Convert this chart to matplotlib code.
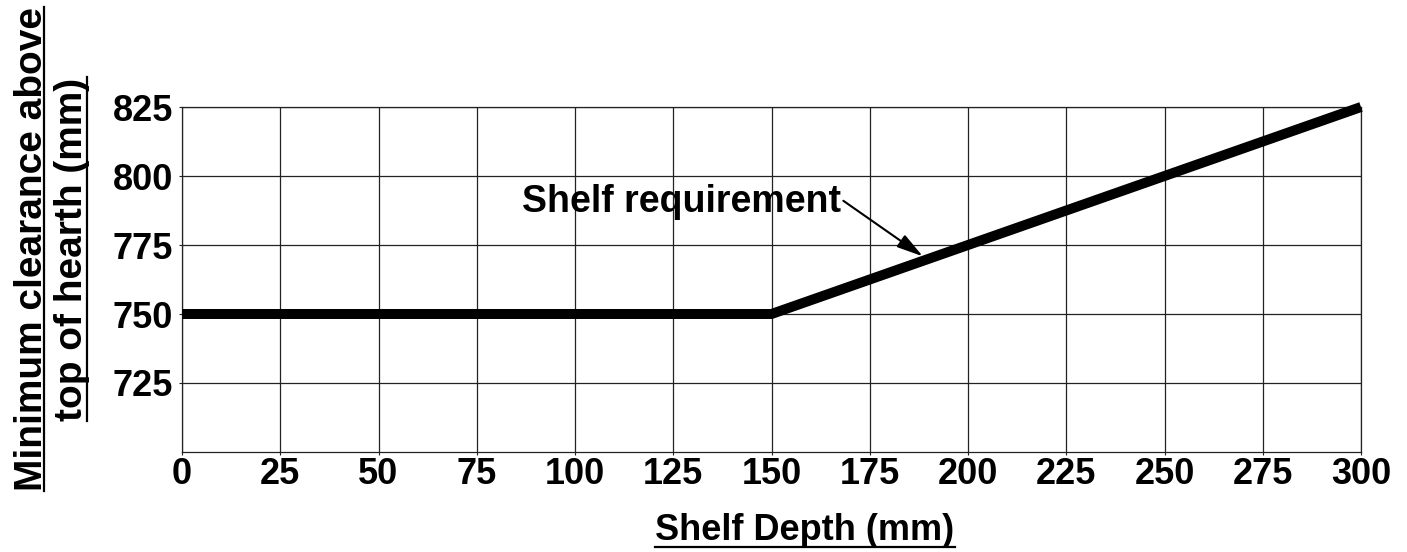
import matplotlib
matplotlib.use('Agg')
import matplotlib.pyplot as plt
from matplotlib.lines import Line2D

plt.rcParams['font.family'] = ['Liberation Sans', 'DejaVu Sans']
plt.rcParams['font.weight'] = 'bold'

# data
depth = [0, 150, 300]
clearance = [750, 750, 825]
x_ticks = list(range(0, 301, 25))
y_ticks = [725, 750, 775, 800, 825]

W, H = 1407, 552
fig = plt.figure(figsize=(W / 100, H / 100), dpi=100)
ax = fig.add_axes([182 / W, 1 - 452 / H, (1361 - 182) / W, 345 / H])

ax.plot(depth, clearance, color='black', linewidth=7.2, clip_on=False,
        solid_joinstyle='miter', solid_capstyle='butt', zorder=3)

ax.set_xlim(0, 300)
ax.set_ylim(700, 825)
ax.set_xticks(x_ticks)
ax.set_yticks(y_ticks)
ax.tick_params(axis='both', labelsize=26, length=2.5, width=0.8, color='#222222')
ax.tick_params(axis='x', pad=1)
ax.tick_params(axis='y', pad=4)
ax.grid(True, color='#222222', linewidth=0.9)
ax.set_axisbelow(True)
for s in ax.spines.values():
    s.set_color('#222222')
    s.set_linewidth(0.9)

# annotation
ax.annotate('Shelf requirement', xy=(188.5, 770.9), xytext=(86.4, 786.8),
            fontsize=27, fontweight='bold', ha='left', va='baseline',
            arrowprops=dict(arrowstyle='-|>,head_length=0.8,head_width=0.22',
                            mutation_scale=20, color='black', lw=1.5,
                            relpos=(1.0, 0.6), shrinkA=0, shrinkB=0))

# axis labels with underline
xl = fig.text(805 / W, 1 - 540 / H, 'Shelf Depth (mm)', fontsize=26,
              fontweight='bold', ha='center', va='baseline')
yl1 = fig.text(42 / W, 1 - 249 / H, 'Minimum clearance above', fontsize=28,
               fontweight='bold', rotation=90, rotation_mode='anchor',
               ha='center', va='baseline')
yl2 = fig.text(82 / W, 1 - 249 / H, 'top of hearth (mm)', fontsize=28,
               fontweight='bold', rotation=90, rotation_mode='anchor',
               ha='center', va='baseline')

fig.canvas.draw()
r = fig.canvas.get_renderer()
inv = fig.transFigure.inverted()

bb = xl.get_window_extent(r)
p0 = inv.transform((bb.x0, H - 547))
p1 = inv.transform((bb.x1, H - 547))
fig.add_artist(Line2D([p0[0], p1[0]], [p0[1], p1[1]], color='black', lw=1.6))

for t, ux in [(yl1, 44), (yl2, 87)]:
    bb = t.get_window_extent(r)
    p0 = inv.transform((ux, bb.y0))
    p1 = inv.transform((ux, bb.y1))
    fig.add_artist(Line2D([p0[0], p1[0]], [p0[1], p1[1]], color='black', lw=1.6))

fig.savefig('out.png', dpi=100, facecolor='white')
